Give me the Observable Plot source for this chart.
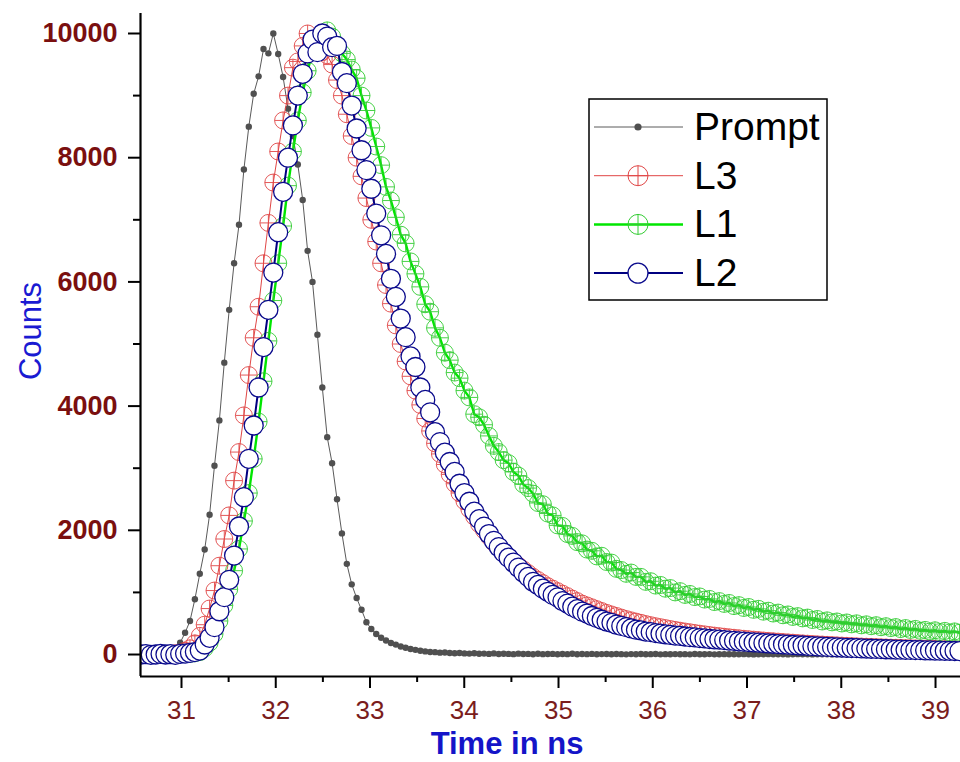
<!DOCTYPE html>
<html><head><meta charset="utf-8">
<script src="https://cdn.jsdelivr.net/npm/d3@7"></script>
<script src="https://cdn.jsdelivr.net/npm/@observablehq/plot@0.6"></script>
<style>
body{margin:0;background:#fff;}
#wrap{position:relative;width:960px;height:762px;font-family:"Liberation Sans",Arial,sans-serif;}
</style></head><body><div id="wrap"></div>
<script>
// channel grid (ns)
const t0 = 30.57, dt = 0.052;
const seriesNames = ["Prompt", "L3", "L1", "L2"];
const prompt = [
5,0,10,0,5,15,25,70,190,350,
540,890,1300,1690,2250,3040,3770,4700,5550,6300,
6920,7810,8500,9030,9310,9750,9680,10000,9670,9300,
8790,8350,7890,7320,6500,6000,5150,4300,3500,3080,
2500,1950,1460,1130,910,720,520,410,330,270,
225,185,160,130,110,90,75,60,50,40,
38,30,32,25,20,24,18,15,20,12,
15,10,18,8,12,10,6,14,8,10,
5,12,6,8,10,4,9,6,12,5,
8,6,10,4,7,9,5,8,6,3,
7,5,9,4,6,8,3,6,5,7,
4,6,3,8,5,4,7,3,5,6,
4,5,3,6,4,2,5,4,6,3,
4,5,2,4,6,3,4,2,5,3,
4,2,3,5,2,4,3,2,4,3,
2,4,3,1,3,2,4,2,3,1,
3,2,1,3,2,1,2,3];
const l3 = [
0,0,5,10,0,5,10,20,30,60,
100,180,300,480,740,1030,1430,1860,2240,2800,
3260,3850,4500,5100,5600,6300,6950,7600,8100,8600,
9000,9450,9550,9800,10000,9700,9900,9700,9650,9500,
9250,9000,8700,8350,8000,7700,7350,7000,6650,6300,
5950,5650,5300,5000,4720,4480,4250,4020,3800,3600,
3400,3230,3060,2900,2750,2600,2470,2340,2220,2100,
2000,1900,1800,1720,1640,1570,1500,1430,1370,1310,
1250,1200,1150,1100,1060,1020,980,940,900,860,
820,790,760,730,700,670,645,620,595,570,
550,530,510,490,472,455,440,425,410,396,
383,370,358,346,335,324,314,304,295,286,
277,269,261,253,246,239,232,225,219,213,
207,201,195,190,184,179,174,169,164,160,
155,151,147,143,139,135,132,128,125,122,
119,116,113,110,108,105,103,100,98,96,
94,92,90,88,86,84,82,80];
const l1 = [
0,5,0,0,5,0,0,5,5,10,
10,20,40,100,190,330,540,790,1050,1350,
1700,2150,2600,3150,3750,4400,5050,5700,6300,6900,
7550,8100,8600,9050,9400,9700,9880,10000,10050,9950,
9780,9680,9580,9420,9280,9000,8760,8480,8180,7880,
7530,7310,7040,6760,6620,6330,6130,5920,5640,5520,
5260,5100,4860,4740,4540,4450,4250,4140,3870,3820,
3700,3520,3360,3260,3130,3080,2940,2880,2740,2680,
2590,2440,2420,2270,2240,2080,2070,1940,1910,1810,
1790,1690,1670,1580,1590,1490,1480,1380,1360,1300,
1320,1250,1250,1170,1180,1110,1120,1060,1070,1000,
1020,960,975,925,935,885,895,845,860,815,
830,780,795,750,765,720,735,690,705,660,
675,632,645,605,618,582,595,556,572,532,
550,518,532,500,516,486,502,470,486,456,
472,440,456,426,442,410,426,396,412,382,
396,370,390,362,380,354,372,350];
const l2 = [
0,5,-5,0,10,0,5,-5,10,15,
25,40,64,161,269,440,697,923,1203,1594,
2061,2533,3151,3688,4300,4950,5550,6150,6800,7450,
8000,8520,9000,9350,9680,9900,9700,10000,9950,9780,
9800,9380,9200,8840,8470,8120,7800,7500,7100,6750,
6450,6050,5760,5410,5110,4800,4630,4300,4100,3900,
3580,3420,3250,3100,2940,2750,2600,2460,2300,2180,
2060,1940,1830,1730,1640,1560,1480,1400,1320,1250,
1170,1120,1060,1010,960,920,860,820,770,730,
690,660,620,590,560,530,510,480,460,440,
420,400,390,370,360,345,335,325,315,305,
300,290,280,275,265,260,250,245,240,232,
225,220,213,207,200,195,190,185,178,173,
168,163,158,153,148,145,140,135,130,126,
122,118,115,112,108,105,102,99,96,93,
90,88,85,83,80,78,76,74,72,70,
68,66,64,62,60,59,57,55];
const xTicks = [31,32,33,34,35,36,37,38,39];
const xMinorTicks = [31.5,32.5,33.5,34.5,35.5,36.5,37.5,38.5];
const yTicks = [0,2000,4000,6000,8000,10000];
const yMinorTicks = [1000,3000,5000,7000,9000];
const xDomain = [30.565, 39.265];
const yDomain = [-354, 10322];

const rows = arr => arr.map((v, i) => ({t: t0 + i * dt, v}));
const P = rows(prompt), S3 = rows(l3), S1 = rows(l1), S2 = rows(l2);

const circlePlus = {draw(ctx, size) {
  const r = Math.sqrt(size / Math.PI);
  ctx.moveTo(r, 0); ctx.arc(0, 0, r, 0, 2 * Math.PI);
  ctx.moveTo(-r, 0); ctx.lineTo(r, 0);
  ctx.moveTo(0, -r); ctx.lineTo(0, r);
}};

const C = {prompt: "#505050", promptLine: "#5a5a5a", l3: "#e04646", l1line: "#00e600", l1: "#33cc33", l2: "#0a0a8c"};

const chart = Plot.plot({
  width: 960, height: 762,
  marginLeft: 140, marginRight: 0, marginTop: 13, marginBottom: 86,
  style: {fontFamily: "'Liberation Sans', Arial, sans-serif", background: "white", overflow: "visible"},
  x: {domain: xDomain},
  y: {domain: yDomain},
  marks: [
    Plot.line(P, {x: "t", y: "v", stroke: C.promptLine, strokeWidth: 1, clip: true}),
    Plot.dot(P, {x: "t", y: "v", r: 3.2, fill: C.prompt, stroke: "none", clip: true}),
    Plot.line(S3, {x: "t", y: "v", stroke: C.l3, strokeWidth: 1, clip: true}),
    Plot.dot(S3, {x: "t", y: "v", r: 8.5, symbol: circlePlus, fill: "none", stroke: C.l3, strokeWidth: 0.9, clip: true}),
    Plot.line(S1, {x: "t", y: "v", stroke: C.l1line, strokeWidth: 2.4, clip: true}),
    Plot.dot(S1, {x: "t", y: "v", r: 8.5, symbol: circlePlus, fill: "none", stroke: C.l1, strokeWidth: 0.9, clip: true}),
    Plot.line(S2, {x: "t", y: "v", stroke: "#000080", strokeWidth: 2, clip: true}),
    Plot.dot(S2, {x: "t", y: "v", r: 9.5, fill: "white", stroke: C.l2, strokeWidth: 1.3, clip: true}),
    Plot.ruleX([xDomain[0]], {stroke: "black", strokeWidth: 2.2}),
    Plot.ruleY([yDomain[0]], {stroke: "black", strokeWidth: 2.2}),
    Plot.axisX({ticks: xTicks, tickSize: 12, tickPadding: 12, fontSize: 26, fill: "#7a1c1c", stroke: "black", strokeWidth: 2, label: null, tickFormat: d => String(d)}),
    Plot.axisX({ticks: xMinorTicks, tickSize: 6, fill: "none", stroke: "black", strokeWidth: 2, label: null, tickFormat: () => ""}),
    Plot.axisY({ticks: yTicks, tickSize: 12, tickPadding: 11, fontSize: 27, fontWeight: "bold", fill: "#7a0f0f", stroke: "black", strokeWidth: 2, label: null, tickFormat: d => String(d)}),
    Plot.axisY({ticks: yMinorTicks, tickSize: 7, fill: "none", stroke: "black", strokeWidth: 2, label: null, tickFormat: () => ""})
  ]
});
document.getElementById("wrap").appendChild(chart);

const svg = d3.select(chart);
svg.append("text").attr("x", 507).attr("y", 754).attr("text-anchor", "middle")
  .attr("font-size", 31).attr("font-weight", "bold").attr("fill", "#1414c8").text("Time in ns");
svg.append("text").attr("transform", "translate(41,331) rotate(-90)").attr("text-anchor", "middle")
  .attr("font-size", 31).attr("fill", "#1a1ad2").text("Counts");

// legend
const leg = d3.select("#wrap").append("svg").attr("width", 241).attr("height", 204)
  .style("position", "absolute").style("left", "588px").style("top", "98px");
leg.append("rect").attr("x", 1).attr("y", 1).attr("width", 238).attr("height", 201)
  .attr("fill", "white").attr("stroke", "black").attr("stroke-width", 1.5);
const items = [
  {name: seriesNames[0], line: C.promptLine, lw: 1, kind: "dot"},
  {name: seriesNames[1], line: C.l3, lw: 1, kind: "plus", stroke: C.l3},
  {name: seriesNames[2], line: C.l1line, lw: 2.5, kind: "plus", stroke: C.l1},
  {name: seriesNames[3], line: "#000080", lw: 2, kind: "circle", stroke: C.l2}
];
items.forEach((it, i) => {
  const cy = 29 + i * 48.7;
  const g = leg.append("g");
  g.append("line").attr("x1", 6).attr("x2", 95).attr("y1", cy).attr("y2", cy).attr("stroke", it.line).attr("stroke-width", it.lw);
  if (it.kind === "dot") g.append("circle").attr("cx", 50).attr("cy", cy).attr("r", 3.6).attr("fill", C.prompt);
  else if (it.kind === "plus") g.append("path").attr("transform", `translate(50,${cy})`).attr("d", d3.symbol(circlePlus, Math.PI * 100)()).attr("fill", "none").attr("stroke", it.stroke).attr("stroke-width", 1);
  else g.append("circle").attr("cx", 50).attr("cy", cy).attr("r", 10).attr("fill", "white").attr("stroke", it.stroke).attr("stroke-width", 1.3);
  g.append("text").attr("x", 106).attr("y", cy + 13).attr("font-size", 39).attr("fill", "black").text(it.name);
});
</script></body></html>
